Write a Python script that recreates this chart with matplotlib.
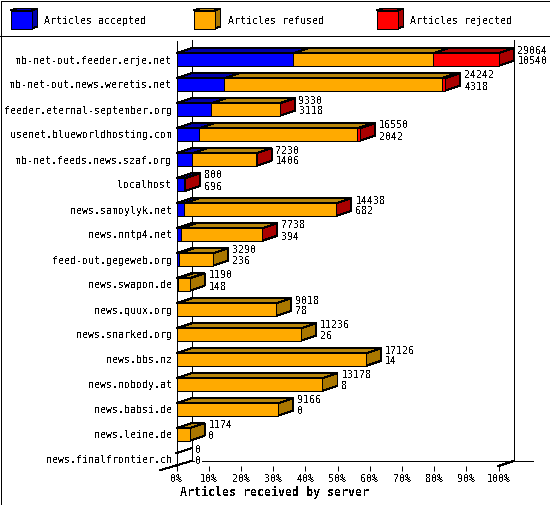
import matplotlib
matplotlib.use('Agg')
import matplotlib.pyplot as plt
from matplotlib.patches import Polygon, Rectangle

plt.rcParams['font.family'] = ['DejaVu Sans Mono']
plt.rcParams['font.size'] = 7.2
plt.rcParams['text.antialiased'] = False

servers = ['mb-net-out.feeder.erje.net', 'mb-net-out.news.weretis.net',
           'feeder.eternal-september.org', 'usenet.blueworldhosting.com',
           'mb-net.feeds.news.szaf.org', 'localhost', 'news.samoylyk.net',
           'news.nntp4.net', 'feed-out.gegeweb.org', 'news.swapon.de',
           'news.quux.org', 'news.snarked.org', 'news.bbs.nz',
           'news.nobody.at', 'news.babsi.de', 'news.leine.de',
           'news.finalfrontier.ch']
total = [29064, 24242, 9330, 16550, 7230, 800, 14438, 7738, 3290, 1190,
         9018, 11236, 17126, 13178, 9166, 1174, 0]
accepted = [10540, 4318, 3118, 2042, 1406, 696, 682, 394, 236, 148,
            78, 26, 14, 8, 0, 0, 0]
# read off the bar ends, only the small red slivers are a guess
rejected = [5886, 300, 20, 260, 12, 30, 14, 10, 0, 0, 0, 0, 0, 0, 0, 0, 0]

pct_ticks = list(range(0, 101, 10))
legend_names = ['Articles accepted', 'Articles refused', 'Articles rejected']

# front, top, side
BLUE = ('#0000ff', '#0000aa', '#0000aa')
ORANGE = ('#ffaa00', '#b8860b', '#aa7700')
RED = ('#ff0000', '#aa0000', '#aa0000')

W, H = 550, 505
DX = 15 / 3.22   # depth of the 3d look, in percent
DY = 5 / 25      # same, in rows
LW = 0.72

fig = plt.figure(figsize=(W / 100, H / 100), dpi=100)

# frame and legend live on an axes in pixels
bg = fig.add_axes([0, 0, 1, 1])
bg.set_xlim(0, W)
bg.set_ylim(H, 0)
bg.axis('off')
bg.add_patch(Rectangle((0.5, 0.5), W - 1, H - 1, fc='white', ec='black', lw=LW, antialiased=False))
bg.plot([0, W], [35.5, 35.5], color='black', lw=LW, antialiased=False)

for x, name, cols in zip([10.5, 193.5, 376.5], legend_names, [BLUE, ORANGE, RED]):
    bg.add_patch(Polygon([(x, 10.5), (x + 6, 8.5), (x + 27, 8.5), (x + 21, 10.5)],
                         fc=cols[1], ec='black', lw=LW, antialiased=False))
    bg.add_patch(Polygon([(x + 21, 10.5), (x + 27, 8.5), (x + 27, 26.5), (x + 21, 28.5)],
                         fc=cols[2], ec='black', lw=LW, antialiased=False))
    bg.add_patch(Rectangle((x, 10.5), 21, 18, fc=cols[0], ec='black', lw=LW, antialiased=False))
    bg.text(x + 34, 20.5, name, ha='left', va='center')

bg.text(274, 492, 'Articles received by server', ha='center', va='center',
        fontweight='bold', fontsize=8.4)

# main plot, x is percent of the biggest server
ax = fig.add_axes([176.5 / W, 1 - 466 / H, 322 / W, 425 / H])
ax.patch.set_visible(False)
ax.set_xlim(0, 100)
ax.set_ylim((466 - 59.5) / 25, (41 - 59.5) / 25)
for s in ['top', 'right', 'bottom']:
    ax.spines[s].set_visible(False)
ax.spines['left'].set_linewidth(LW)
ax.set_xticks(pct_ticks, [f'{p}%' for p in pct_ticks])
ax.set_yticks(range(len(servers)), servers)
ax.tick_params(axis='x', length=3.6, width=LW, pad=2)
ax.tick_params(axis='y', length=0, pad=3.5)

y_bottom, y_top = ax.get_ylim()
scale = 100 / max(total)
floor = y_bottom - DY


def line(xs, ys, lw=LW, aa=False):
    ax.plot(xs, ys, color='black', lw=lw, antialiased=aa, clip_on=False, zorder=1)


# back wall and floor, the floor vanishes when drawn without antialiasing
line([DX, DX], [y_top - 0.04, floor])
line([100 + DX, 100 + DX], [y_top - 0.04, floor])
line([DX, 100 + 34 / 3.22], [floor - 0.02, floor - 0.02], aa=True)
line([-16 / 3.22, DX], [y_bottom + 5 / 25 * 0.8, floor])
line([100, 100 + DX], [y_bottom, floor])

H_BAR = 0.25
for i in range(len(servers)):
    refused = total[i] - accepted[i] - rejected[i]
    left = 0
    top_y = i - H_BAR
    last = None
    for val, cols in zip([accepted[i], refused, rejected[i]], [BLUE, ORANGE, RED]):
        if val == 0:
            continue
        w = val * scale
        ax.add_patch(Polygon([(left, top_y), (left + DX, top_y - DY),
                              (left + w + DX, top_y - DY), (left + w, top_y)],
                             fc=cols[1], ec='black', lw=LW, antialiased=False, zorder=2, clip_on=False))
        ax.barh(i, w, height=H_BAR * 2, left=left, color=cols[0], edgecolor='black',
                linewidth=LW, antialiased=False, zorder=3, clip_on=False)
        left += w
        last = cols
    if last is None:
        # empty server, only the outline of the bar is left
        line([0, DX], [top_y, top_y - DY])
    else:
        ax.add_patch(Polygon([(left, top_y), (left + DX, top_y - DY),
                              (left + DX, i + H_BAR - DY), (left, i + H_BAR)],
                             fc=last[2], ec='black', lw=LW, antialiased=False, zorder=2, clip_on=False))
    box = dict(fc='white', ec='none', pad=0.5) if total[i] == 0 else None
    ax.text(left + DX + 4 / 3.22, i - 0.36, str(total[i]), ha='left', va='center',
            clip_on=False, zorder=4)
    ax.text(left + DX + 4 / 3.22, i + 0.08, str(accepted[i]), ha='left', va='center',
            clip_on=False, zorder=4, bbox=box)

fig.savefig('out.png', dpi=100)
